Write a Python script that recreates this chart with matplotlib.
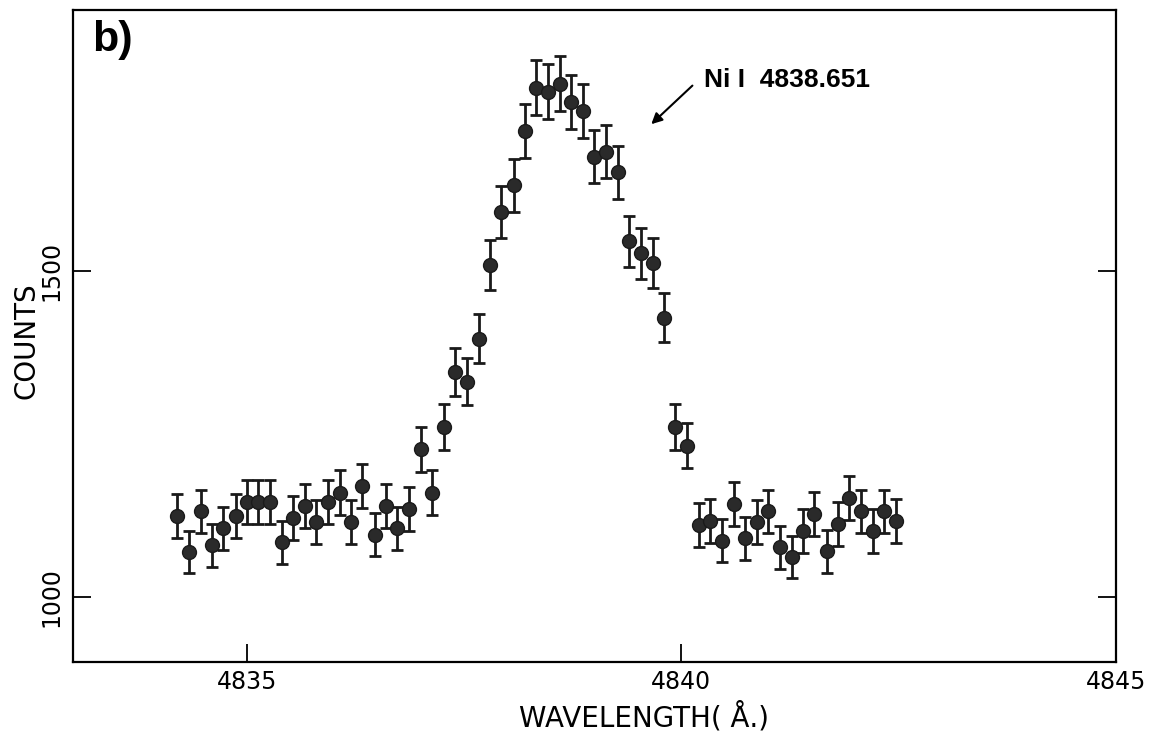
import matplotlib
matplotlib.use("Agg")
import matplotlib.pyplot as plt

wavelength = [
    4834.20, 4834.33, 4834.47, 4834.60, 4834.73, 4834.87, 4835.00, 4835.13,
    4835.27, 4835.40, 4835.53, 4835.67, 4835.80, 4835.93, 4836.07, 4836.20,
    4836.33, 4836.47, 4836.60, 4836.73, 4836.87, 4837.00, 4837.13, 4837.27,
    4837.40, 4837.53, 4837.67, 4837.80, 4837.93, 4838.07, 4838.20, 4838.33,
    4838.47, 4838.60, 4838.73, 4838.87, 4839.00, 4839.13, 4839.27, 4839.40,
    4839.53, 4839.67, 4839.80, 4839.93, 4840.07, 4840.20, 4840.33, 4840.47,
    4840.60, 4840.73, 4840.87, 4841.00, 4841.13, 4841.27, 4841.40, 4841.53,
    4841.67, 4841.80, 4841.93, 4842.07, 4842.20, 4842.33, 4842.47,
]
counts = [
    1124, 1069, 1131, 1079, 1105, 1124, 1145, 1145,
    1145, 1084, 1121, 1139, 1115, 1145, 1160, 1115,
    1170, 1095, 1139, 1105, 1134, 1226, 1160, 1260,
    1345, 1330, 1396, 1509, 1590, 1631, 1715, 1781,
    1775, 1787, 1759, 1745, 1675, 1683, 1651, 1545,
    1527, 1512, 1428, 1261, 1232, 1110, 1116, 1086,
    1142, 1090, 1115, 1131, 1076, 1061, 1101, 1127,
    1070, 1112, 1151, 1131, 1101, 1131, 1116,
]
errors = [
    33.5, 32.7, 33.6, 32.8, 33.2, 33.5, 33.8, 33.8,
    33.8, 32.9, 33.5, 33.7, 33.4, 33.8, 34.1, 33.4,
    34.2, 33.1, 33.7, 33.2, 33.7, 35.0, 34.1, 35.5,
    36.7, 36.5, 37.4, 38.8, 39.9, 40.4, 41.4, 42.2,
    42.1, 42.3, 41.9, 41.8, 40.9, 41.0, 40.6, 39.3,
    39.1, 38.9, 37.8, 35.5, 35.1, 33.3, 33.4, 33.0,
    33.8, 33.0, 33.4, 33.6, 32.8, 32.6, 33.2, 33.6,
    32.7, 33.3, 33.9, 33.6, 33.2, 33.6, 33.4,
]
x_ticks = [4835, 4840, 4845]
y_ticks = [1000, 1500]

narrow = ['Liberation Sans Narrow', 'DejaVu Sans']

fig = plt.figure(figsize=(11.51, 7.32), dpi=100)
ax = fig.add_axes([0.0634, 0.0956, 0.9062, 0.8907])

ax.errorbar(wavelength, counts, yerr=errors, fmt='o', color='#222222',
            markersize=10, markerfacecolor='#2a2a2a', markeredgecolor='#1a1a1a',
            ecolor='#1a1a1a', elinewidth=2.0, capsize=4.3, capthick=2.0)

ax.set_xlim(4833, 4845)
ax.set_ylim(900, 1900)
ax.set_xticks(x_ticks)
ax.set_yticks(y_ticks)
ax.set_xticklabels([str(t) for t in x_ticks], family=narrow, fontsize=17)
ax.set_yticklabels([str(t) for t in y_ticks], family=narrow, fontsize=17,
                   rotation=90, va='center')
ax.tick_params(axis='x', direction='in', length=13, width=1.3, pad=6)
ax.tick_params(axis='y', direction='in', length=13, width=1.3, pad=7,
               right=True)
for s in ax.spines.values():
    s.set_linewidth(1.6)

fig.text(644 / 1151, 1 - 717 / 732, 'WAVELENGTH( Å.)', family=narrow,
         fontsize=20, ha='center', va='center')
fig.text(26 / 1151, 1 - 341 / 732, 'COUNTS', family=narrow, fontsize=20,
         ha='center', va='center', rotation=90)

ax.text(0.018, 0.985, 'b)', transform=ax.transAxes, fontsize=31,
        fontweight='bold', family=['Liberation Sans', 'DejaVu Sans'],
        ha='left', va='top')

ax.annotate('', xy=(4839.63, 1722), xytext=(4840.15, 1787),
            arrowprops=dict(arrowstyle='-|>', lw=1.5, color='k',
                            mutation_scale=16))
ax.text(4840.26, 1792, 'Ni I  4838.651', fontsize=19, fontweight='bold',
        family=['Liberation Sans', 'DejaVu Sans'], ha='left', va='center')

fig.savefig('out.png', dpi=100)
